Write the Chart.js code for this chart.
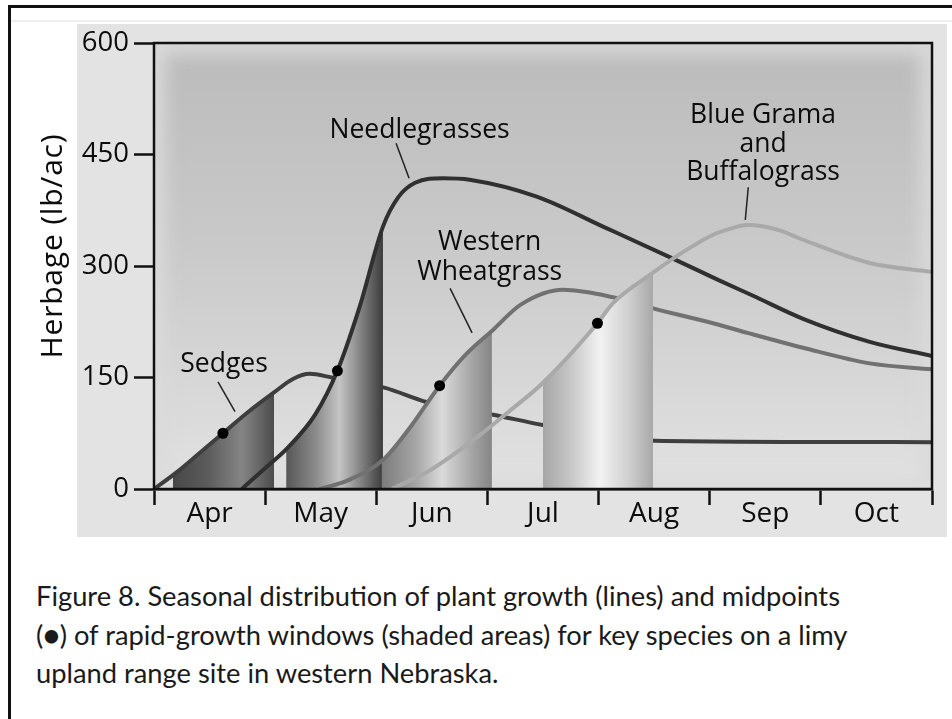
<!DOCTYPE html>
<html>
<head>
<meta charset="utf-8">
<script src="https://cdn.jsdelivr.net/npm/chart.js@4.4.0/dist/chart.umd.min.js"></script>
<style>
  body { margin: 0; background: #fff; width: 952px; height: 719px; overflow: hidden; position: relative; }
  #frame { position: absolute; left: 8px; top: 5px; width: 960px; height: 740px; border-left: 3px solid #111; border-top: 3px solid #111; }
  #rule { position: absolute; left: 11px; top: 20px; width: 941px; height: 2px; background: #efefef; }
  #panel { position: absolute; left: 77px; top: 24px; width: 870px; height: 513px; background: #e3e3e3; }
  #chart { position: absolute; left: 0; top: 0; }
  #caption { position: absolute; left: 36px; top: 577px; font-family: Lato, sans-serif; font-size: 27.3px; line-height: 38.5px; color: #1a1a1a; white-space: nowrap; }
</style>
</head>
<body>
<div id="frame"></div>
<div id="rule"></div>
<div id="panel"></div>
<canvas id="chart" width="952" height="540"></canvas>
<div id="caption">Figure 8. Seasonal distribution of plant growth (lines) and midpoints<br>(●) of rapid-growth windows (shaded areas) for key species on a limy<br>upland range site in western Nebraska.</div>
<script>
// x is months counted from 1 April, y is herbage in lb/ac
const months = ['Apr', 'May', 'Jun', 'Jul', 'Aug', 'Sep', 'Oct'];
const yTicks = [0, 150, 300, 450, 600];

const sedgesX = [0, 0.2, 0.4, 0.62, 0.85, 1.08, 1.25, 1.4, 1.6, 2.08, 2.45, 3.05, 3.5, 4.0, 4.5, 7];
const sedgesY = [0, 22, 47, 75, 104, 130, 148, 155, 150, 136, 117, 100, 86, 73, 65, 63];

const needleX = [0.79, 1.0, 1.2, 1.45, 1.65, 1.85, 2.06, 2.2, 2.35, 2.6, 2.84, 3.45, 4.04, 4.64, 5.08, 5.39, 5.84, 6.44, 7];
const needleY = [0, 28, 55, 100, 159, 245, 353, 393, 412, 418, 416, 393, 353, 312, 281, 260, 229, 198, 179];

const wheatX = [1.49, 1.75, 2.06, 2.3, 2.57, 2.8, 3.05, 3.3, 3.68, 4.13, 4.49, 5.03, 5.34, 5.84, 6.44, 7];
const wheatY = [0, 12, 39, 82, 139, 180, 214, 248, 268, 258, 243, 223, 210, 190, 169, 161];

const blueX = [2.14, 2.48, 2.84, 3.2, 3.5, 3.99, 4.13, 4.49, 4.67, 5.03, 5.18, 5.34, 5.63, 5.81, 6.44, 7];
const blueY = [0, 25, 62, 105, 143, 223, 250, 291, 310, 342, 350, 355, 348, 337, 304, 292];

// rapid-growth windows (start, end month) and their midpoints
const sedgesWindow = [0.17, 1.08];
const needleWindow = [1.19, 2.06];
const wheatWindow = [2.05, 3.04];
const blueWindow = [3.5, 4.49];
const midX = [0.62, 1.65, 2.57, 3.99];
const midY = [75, 159, 139, 223];

const pts = (xs, ys) => xs.map((x, i) => ({ x: x, y: ys[i] }));

function curve(label, xs, ys, color, win, stops, order) {
  return {
    label: label,
    data: pts(xs, ys),
    borderColor: color,
    borderWidth: 4,
    pointRadius: 0,
    cubicInterpolationMode: 'monotone',
    fill: false,
    order: order,
    win: win,
    stops: stops
  };
}

const labelFont = '26.5px "Open Sans"';
// label baselines given in chart units
const notes = [
  { text: ['Sedges'], x: 0.63, y: [157], lead: [0.576, 144, 0.729, 104] },
  { text: ['Needlegrasses'], x: 2.39, y: [472], lead: [2.178, 465, 2.295, 418] },
  { text: ['Western', 'Wheatgrass'], x: 3.02, y: [321, 281], lead: [2.664, 270, 2.862, 210] },
  { text: ['Blue Grama', 'and', 'Buffalograss'], x: 5.48, y: [492, 453, 416], lead: [5.347, 406, 5.32, 362] }
];

const plotBg = {
  id: 'plotBg',
  beforeDatasetsDraw(chart) {
    const { ctx, chartArea: a } = chart;
    ctx.save();
    ctx.beginPath();
    ctx.rect(a.left, a.top, a.right - a.left, a.bottom - a.top);
    ctx.clip();
    const g = ctx.createLinearGradient(0, a.top, 0, a.bottom);
    g.addColorStop(0, '#bbbbbb');
    g.addColorStop(0.45, '#c9c9c9');
    g.addColorStop(1, '#e2e2e2');
    ctx.fillStyle = g;
    ctx.fillRect(a.left, a.top, a.right - a.left, a.bottom - a.top);
    ctx.filter = 'blur(9px)';
    ctx.strokeStyle = '#dadada';
    ctx.lineWidth = 22;
    ctx.strokeRect(a.left, a.top, a.right - a.left, a.bottom - a.top);
    ctx.restore();
  }
};

// shaded window under each curve, drawn just before that curve's line
const windows = {
  id: 'windows',
  beforeDatasetDraw(chart, args) {
    const ds = chart.data.datasets[args.index];
    if (!ds.win) return;
    const { ctx, chartArea: a } = chart;
    const xs = chart.scales.x;
    const x0 = xs.getPixelForValue(ds.win[0]);
    const x1 = xs.getPixelForValue(ds.win[1]);
    const line = args.meta.dataset;
    const pts = args.meta.data;
    line.updateControlPoints(a, 'x');
    ctx.save();
    ctx.beginPath();
    ctx.rect(x0, a.top, x1 - x0, a.bottom - a.top);
    ctx.clip();
    ctx.beginPath();
    line.path(ctx);
    ctx.lineTo(pts[pts.length - 1].x, a.bottom);
    ctx.lineTo(pts[0].x, a.bottom);
    ctx.closePath();
    const g = ctx.createLinearGradient(x0, 0, x1, 0);
    ds.stops.forEach(s => g.addColorStop(s[0], s[1]));
    ctx.fillStyle = g;
    ctx.fill();
    ctx.restore();
  }
};

const frameAndNotes = {
  id: 'frameAndNotes',
  afterDraw(chart) {
    const { ctx, chartArea: a, scales } = chart;
    const px = v => scales.x.getPixelForValue(v);
    const py = v => scales.y.getPixelForValue(v);
    ctx.save();
    ctx.strokeStyle = '#111';
    ctx.lineWidth = 2.5;
    ctx.strokeRect(a.left, a.top, a.right - a.left, a.bottom - a.top);

    ctx.fillStyle = '#0c0c0c';
    ctx.font = labelFont;
    ctx.textAlign = 'center';
    ctx.textBaseline = 'alphabetic';
    notes.forEach(n => {
      n.text.forEach((t, i) => ctx.fillText(t, px(n.x), py(n.y[i])));
      ctx.beginPath();
      ctx.lineWidth = 1.5;
      ctx.strokeStyle = '#222';
      ctx.moveTo(px(n.lead[0]), py(n.lead[1]));
      ctx.lineTo(px(n.lead[2]), py(n.lead[3]));
      ctx.stroke();
    });

    // y axis title
    ctx.translate(62, 246);
    ctx.rotate(-Math.PI / 2);
    ctx.font = '30px "Open Sans"';
    ctx.letterSpacing = '0.8px';
    ctx.fillText('Herbage (lb/ac)', 0, 0);
    ctx.restore();
  }
};

const xTickValues = [];
for (let i = 0; i <= months.length; i++) {
  xTickValues.push(i);
  if (i < months.length) xTickValues.push(i + 0.5);
}

new Chart(document.getElementById('chart'), {
  type: 'line',
  data: {
    datasets: [
      {
        label: 'Midpoints',
        data: pts(midX, midY),
        showLine: false,
        pointRadius: 5.5,
        pointBackgroundColor: '#000',
        pointBorderWidth: 0,
        order: 0
      },
      curve('Blue Grama and Buffalograss', blueX, blueY, '#a9a9a9', blueWindow,
        [[0, '#a6a6a6'], [0.25, '#c6c6c6'], [0.52, '#f2f2f2'], [0.78, '#cfcfcf'], [1, '#a8a8a8']], 1),
      curve('Western Wheatgrass', wheatX, wheatY, '#717171', wheatWindow,
        [[0, '#7c7c7c'], [0.3, '#a4a4a4'], [0.55, '#dadada'], [0.8, '#a8a8a8'], [1, '#858585']], 2),
      curve('Needlegrasses', needleX, needleY, '#303030', needleWindow,
        [[0, '#575757'], [0.3, '#8a8a8a'], [0.55, '#c4c4c4'], [0.8, '#7a7a7a'], [1, '#3c3c3c']], 3),
      curve('Sedges', sedgesX, sedgesY, '#3e3e3e', sedgesWindow,
        [[0, '#474747'], [0.35, '#5c5c5c'], [0.68, '#858585'], [1, '#4c4c4c']], 4)
    ]
  },
  options: {
    responsive: false,
    animation: false,
    layout: { padding: { top: 43, right: 20, left: 0, bottom: 0 } },
    plugins: { legend: { display: false }, tooltip: { enabled: false } },
    scales: {
      x: {
        type: 'linear',
        min: 0,
        max: months.length,
        afterBuildTicks: s => { s.ticks = xTickValues.map(v => ({ value: v })); },
        afterFit: s => { s.height = 51; },
        ticks: {
          autoSkip: false,
          maxRotation: 0,
          padding: -8,
          color: '#0c0c0c',
          font: { family: 'Open Sans', size: 28 },
          callback: v => Number.isInteger(v) ? '' : months[Math.floor(v)]
        },
        grid: {
          drawOnChartArea: false,
          tickLength: 16,
          tickWidth: 2.5,
          tickColor: c => Number.isInteger(c.tick.value) ? '#111' : 'rgba(0,0,0,0)'
        },
        border: { color: '#111', width: 2.5 }
      },
      y: {
        min: 0,
        max: 600,
        afterBuildTicks: s => { s.ticks = yTicks.map(v => ({ value: v })); },
        afterFit: s => { s.width = 154; },
        ticks: {
          padding: 5,
          color: '#0c0c0c',
          font: { family: 'Open Sans', size: 27.5 }
        },
        grid: {
          drawOnChartArea: false,
          tickLength: 20,
          tickWidth: 2.5,
          tickColor: '#111'
        },
        border: { color: '#111', width: 2.5 }
      }
    }
  },
  plugins: [plotBg, windows, frameAndNotes]
});
</script>
</body>
</html>
